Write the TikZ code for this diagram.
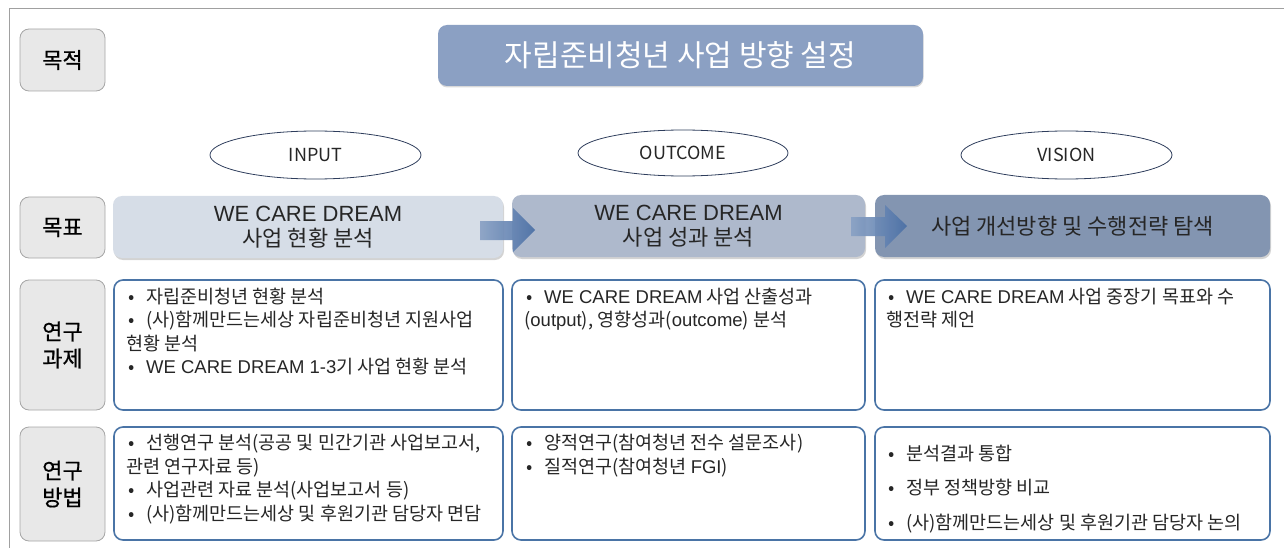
\documentclass[tikz,border=0pt]{standalone}
\usepackage{fontspec}
\setmainfont{Noto Sans CJK KR}
\newfontfamily\labelfont{Noto Sans CJK KR}[FakeBold=0.6]
\newfontfamily\latinfont{Liberation Sans}
\newcommand\lat[1]{{\latinfont #1}}
\usetikzlibrary{shadows,shapes.geometric}
\definecolor{framegrey}{HTML}{A0A0A0}
\definecolor{labelfill}{HTML}{E8E8E8}
\definecolor{labeldraw}{HTML}{A6A6A6}
\definecolor{titlefill}{HTML}{8BA0C3}
\definecolor{goalA}{HTML}{D6DDE7}
\definecolor{goalB}{HTML}{AEB9CC}
\definecolor{goalC}{HTML}{8395B1}
\definecolor{taskdraw}{HTML}{4A74A6}
\definecolor{ovaldraw}{HTML}{2E3D5C}
\definecolor{arrowblue}{HTML}{4A6FA5}
\definecolor{inktext}{HTML}{262626}
\newcommand\bul{\makebox[20pt][l]{\hspace{2pt}•}}
\begin{document}
\begin{tikzpicture}[x=1pt,y=-1pt,
  labelbox/.style={draw=labeldraw, fill=labelfill, rounded corners=9pt, line width=0.8pt,
    inner sep=0, align=center, text=black, font=\labelfont\fontsize{22}{27}\selectfont},
  titlebox/.style={fill=titlefill, rounded corners=9pt, inner sep=0, text=white,
    font=\fontsize{30}{34}\selectfont,
    drop shadow={shadow xshift=0.5pt, shadow yshift=-1.5pt, opacity=0.3}},
  goalbox/.style={rounded corners=9pt, inner sep=0, align=center, text=inktext,
    font=\fontsize{22}{25}\selectfont,
    drop shadow={shadow xshift=1pt, shadow yshift=-2pt, opacity=0.35}},
  taskbox/.style={draw=taskdraw, line width=1.6pt, rounded corners=9pt, fill=white, inner sep=0},
  oval/.style={draw=ovaldraw, line width=0.8pt, ellipse, inner sep=0, text=inktext,
    font=\fontsize{18}{20}\selectfont},
  bodytext/.style={anchor=north west, inner sep=0, align=left, text=inktext,
    font=\fontsize{18.5}{23.5}\selectfont},
  blockarrow/.style={left color=arrowblue!65, right color=arrowblue, opacity=0.92}
]
\useasboundingbox (0,0) rectangle (1284,548);

% outer frame: top and left rules
\coordinate (frameBL) at (9,548);
\coordinate (frameTR) at (1284,9);
\draw[framegrey, line width=1pt] (frameBL) |- (frameTR);

% row labels
\node[labelbox, minimum width=85, minimum height=62] (lblPurpose) at (62.5,60) {목적};
\node[labelbox, minimum width=85, minimum height=61] (lblGoal) at (62.5,227.5) {목표};
\node[labelbox, minimum width=85, minimum height=130] (lblTask) at (62.5,345) {연구\\과제};
\node[labelbox, minimum width=85, minimum height=114] (lblMethod) at (62.5,484) {연구\\방법};

% title
\node[titlebox, minimum width=485, minimum height=61] (title) at (680.5,55.5) {자립준비청년 사업 방향 설정};

% stage ovals
\node[oval, minimum width=211, minimum height=48] (ovIn) at (315.5,155) {INPUT};
\node[oval, minimum width=210, minimum height=46] (ovOut) at (683,153) {OUTCOME};
\node[oval, minimum width=211, minimum height=48] (ovVis) at (1066.5,155) {VISION};

% goal bars
\node[goalbox, fill=goalA, minimum width=390, minimum height=62] (goalIn) at (308,227) {\lat{WE CARE DREAM}\\사업 현황 분석};
\node[goalbox, fill=goalB, minimum width=353, minimum height=62] (goalOut) at (688.5,226) {\lat{WE CARE DREAM}\\사업 성과 분석};
\node[goalbox, fill=goalC, minimum width=395, minimum height=62] (goalVis) at (1072.5,226) {사업 개선방향 및 수행전략 탐색};

% block arrows between goal bars
\shade[blockarrow] (480,221) -- (513,221) -- (513,208) -- (535,230) -- (513,252) -- (513,240) -- (480,240) -- cycle;
\shade[blockarrow] (851,217) -- (885,217) -- (885,205) -- (907,226) -- (885,248) -- (885,236) -- (851,236) -- cycle;

% research tasks
\node[taskbox, minimum width=389, minimum height=130] (taskIn) at (308.5,345) {};
\node[taskbox, minimum width=353, minimum height=130] (taskOut) at (688.5,345) {};
\node[taskbox, minimum width=395, minimum height=130] (taskVis) at (1072.5,345) {};

% research methods
\node[taskbox, minimum width=389, minimum height=113] (methIn) at (308.5,483.5) {};
\node[taskbox, minimum width=353, minimum height=113] (methOut) at (688.5,483.5) {};
\node[taskbox, minimum width=395, minimum height=113] (methVis) at (1072.5,483.5) {};

% texts of the tasks
\node[bodytext] (txtTaskIn) at (126,287.5) {\bul 자립준비청년 현황 분석\\
\bul (사)함께만드는세상 자립준비청년 지원사업\\
현황 분석\\
\bul \lat{WE CARE DREAM 1-3}기 사업 현황 분석};
\node[bodytext] (txtTaskOut) at (524,287.5) {\bul \lat{WE CARE DREAM} 사업 산출성과\\
(\lat{output}), 영향성과(\lat{outcome}) 분석};
\node[bodytext] (txtTaskVis) at (886,287.5) {\bul \lat{WE CARE DREAM} 사업 중장기 목표와 수\\
행전략 제언};

% texts of the methods
\node[bodytext] (txtMethIn) at (126,434) {\bul 선행연구 분석(공공 및 민간기관 사업보고서,\\
관련 연구자료 등)\\
\bul 사업관련 자료 분석(사업보고서 등)\\
\bul (사)함께만드는세상 및 후원기관 담당자 면담};
\node[bodytext] (txtMethOut) at (524,434) {\bul 양적연구(참여청년 전수 설문조사)\\
\bul 질적연구(참여청년 \lat{FGI})};
\node[bodytext, font=\fontsize{18.5}{34.8}\selectfont] (txtMethVis) at (886,444.5) {\bul 분석결과 통합\\
\bul 정부 정책방향 비교\\
\bul (사)함께만드는세상 및 후원기관 담당자 논의};
\end{tikzpicture}
\end{document}
